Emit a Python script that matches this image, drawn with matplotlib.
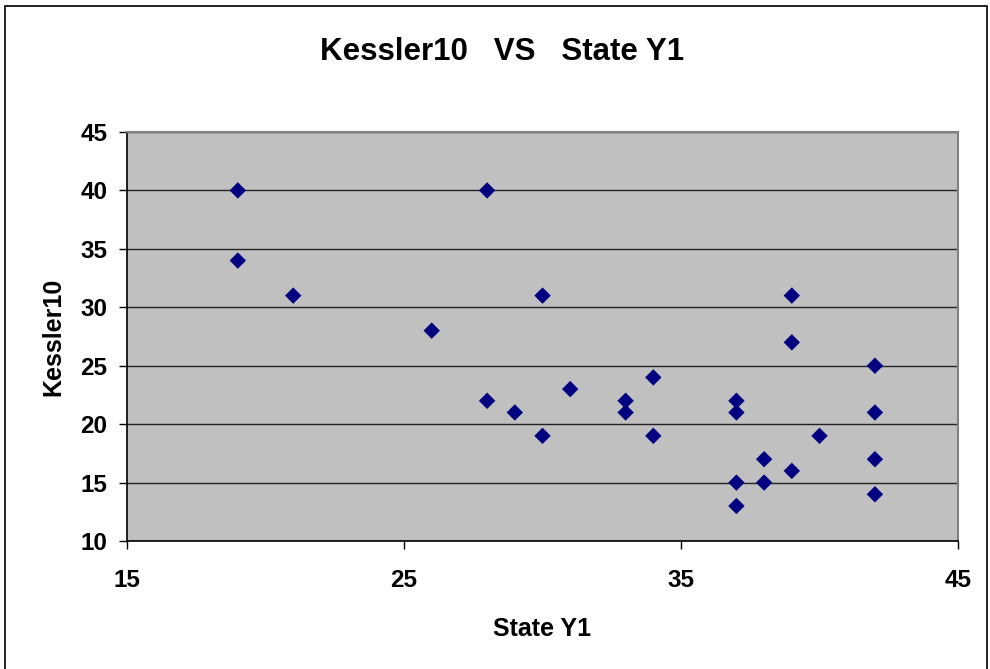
import matplotlib.pyplot as plt
from matplotlib.patches import Rectangle

plt.rcParams['font.family'] = ['Liberation Sans', 'DejaVu Sans']

# data
state_y1 = [19, 19, 21, 26, 28, 28, 29, 30, 30, 31, 33, 33, 34, 34,
            37, 37, 37, 37, 38, 38, 39, 39, 39, 40, 42, 42, 42, 42]
kessler10 = [40, 34, 31, 28, 40, 22, 21, 31, 19, 23, 22, 21, 24, 19,
             22, 21, 15, 13, 17, 15, 31, 27, 16, 19, 25, 21, 17, 14]

x_ticks = [15, 25, 35, 45]
y_ticks = [10, 15, 20, 25, 30, 35, 40, 45]

fig = plt.figure(figsize=(9.9, 6.69), dpi=100)
ax = fig.add_axes([0.1283, 0.1913, 0.8394, 0.6114])

# outer frame of the chart area
fig.patches.append(Rectangle((5 / 990, -0.05), 982 / 990, 1 - 6 / 669 + 0.05,
                             transform=fig.transFigure, fill=False,
                             edgecolor='black', linewidth=1.2))

ax.set_facecolor('#C0C0C0')
ax.scatter(state_y1, kessler10, marker='D', s=70, color='#000080',
           edgecolors='none', zorder=3)

ax.set_xlim(15, 45)
ax.set_ylim(10, 45)
ax.set_xticks(x_ticks)
ax.set_yticks(y_ticks)
ax.yaxis.grid(True, color='#222222', linewidth=1.0)
ax.set_axisbelow(True)

for side in ['top', 'right']:
    ax.spines[side].set_color('#808080')
    ax.spines[side].set_linewidth(1.5)
for side in ['left', 'bottom']:
    ax.spines[side].set_color('black')
    ax.spines[side].set_linewidth(1.2)

ax.tick_params(axis='both', direction='out', length=6, width=1, labelsize=17.5)
ax.tick_params(axis='x', pad=14)
ax.tick_params(axis='y', pad=8)
for lbl in ax.get_xticklabels() + ax.get_yticklabels():
    lbl.set_fontweight('bold')

ax.set_xlabel('State Y1', fontsize=18, fontweight='bold', labelpad=18)
ax.set_ylabel('Kessler10', fontsize=18, fontweight='bold', labelpad=11)
fig.suptitle('Kessler10   VS   State Y1', fontsize=22.5, fontweight='bold',
             x=0.507, y=0.945)

plt.savefig('out.png', dpi=100)
